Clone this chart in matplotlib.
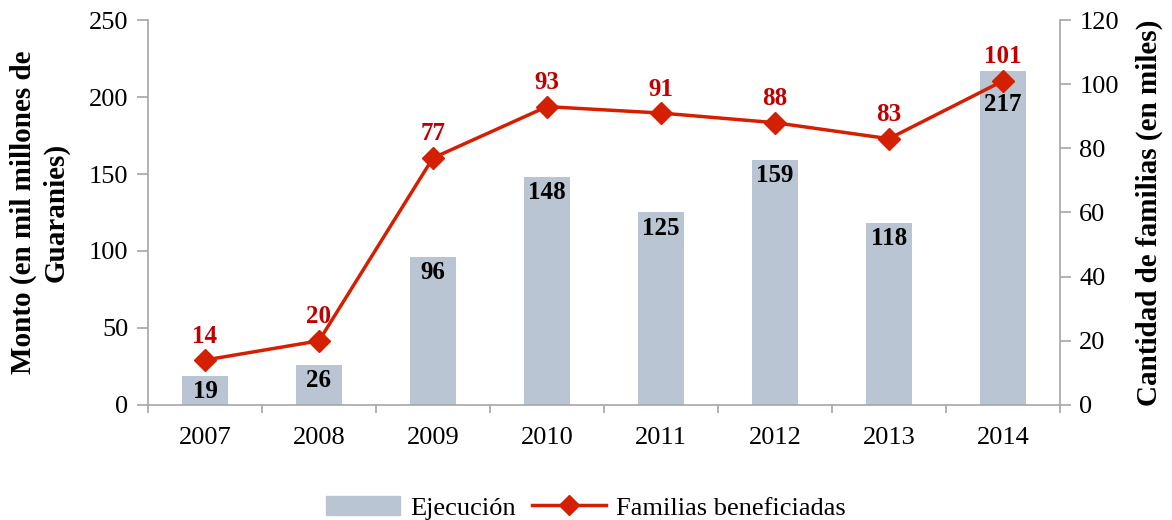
import numpy as np
import matplotlib.pyplot as plt
from matplotlib.lines import Line2D
from matplotlib.patches import Patch

years = ["2007", "2008", "2009", "2010", "2011", "2012", "2013", "2014"]
ejecucion = [19, 26, 96, 148, 125, 159, 118, 217]
familias = [14, 20, 77, 93, 91, 88, 83, 101]

plt.rcParams['font.family'] = ['Liberation Serif', 'DejaVu Serif']

bar_color = '#B9C5D3'
line_color = '#D42000'
label_red = '#C00000'
gray = '#A6A6A6'

fig = plt.figure(figsize=(11.72, 5.2), dpi=100)
ax = fig.add_axes([0.1263, 0.2212, 0.778, 0.7403])
ax2 = ax.twinx()

x = np.arange(len(years))
ax.bar(x, ejecucion, width=0.4, color=bar_color, zorder=1)
for xi, v, f in zip(x, ejecucion, familias):
    # push the bar label down when the line marker sits just under the bar top
    gap = v - f * 250 / 120
    off = -16 if 0 < gap < 15 else -3
    ax.annotate(str(v), (xi, v), xytext=(0, off), textcoords='offset points',
                ha='center', va='top', fontsize=18, fontweight='bold', color='black')

ax2.plot(x, familias, color=line_color, lw=2.5, marker='D', ms=11, zorder=3)
for xi, v in zip(x, familias):
    ax2.annotate(str(v), (xi, v), xytext=(0, 9), textcoords='offset points',
                 ha='center', va='bottom', fontsize=18, fontweight='bold', color=label_red)

ax.set_xlim(-0.5, 7.5)
ax.set_ylim(0, 250)
ax2.set_ylim(0, 120)
ax.set_yticks(range(0, 251, 50))
ax2.set_yticks(range(0, 121, 20))
ax.set_xticks(x)
ax.set_xticklabels(years)
ax.set_xticks(np.arange(-0.5, 8, 1), minor=True)
ax.tick_params(axis='x', which='major', length=0, pad=16, labelsize=19)
ax.tick_params(axis='x', which='minor', length=6, color=gray, width=1.2)
ax.tick_params(axis='y', length=8, color=gray, width=1.2, labelsize=19, pad=6)
ax2.tick_params(axis='y', length=8, color=gray, width=1.2, labelsize=19, pad=6)

for a in (ax, ax2):
    a.spines['top'].set_visible(False)
    for s in ('left', 'right', 'bottom'):
        a.spines[s].set_color(gray)
        a.spines[s].set_linewidth(1.2)
ax.spines['right'].set_visible(False)
ax2.spines['left'].set_visible(False)
ax2.spines['bottom'].set_visible(False)

ax.set_ylabel("Monto (en mil millones de\nGuaranies)", fontsize=21, fontweight='bold',
              labelpad=14, linespacing=1.25)
ax2.set_ylabel("Cantidad de familias (en miles)", fontsize=21, fontweight='bold', labelpad=12)

handles = [Patch(color=bar_color),
           Line2D([0], [0], color=line_color, lw=2.5, marker='D', ms=10)]
fig.legend(handles, ["Ejecución", "Familias beneficiadas"], loc='lower center',
           bbox_to_anchor=(0.5, -0.045), ncol=2, frameon=False, fontsize=19,
           handlelength=2.8, handletextpad=0.4, columnspacing=0.6)

fig.savefig("out.png", dpi=100)
